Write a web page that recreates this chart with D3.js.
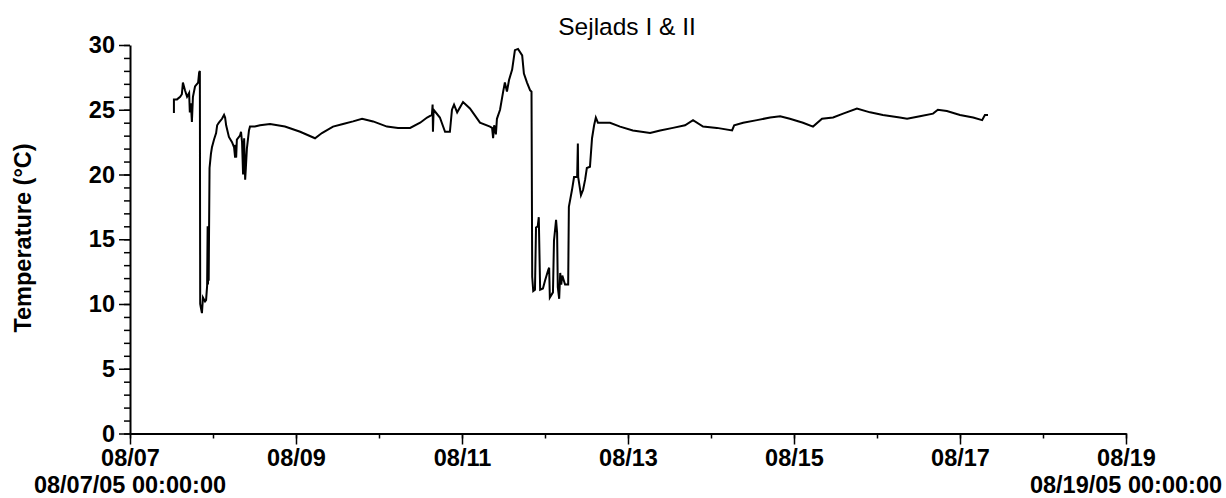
<!DOCTYPE html>
<html>
<head>
<meta charset="utf-8">
<script src="https://d3js.org/d3.v7.min.js"></script>
<style>
  html, body { margin: 0; padding: 0; background: #fff; }
  svg { display: block; }
  text { font-family: "Liberation Sans", Arial, sans-serif; fill: #000; }
</style>
</head>
<body>
<svg id="chart" width="1226" height="498"></svg>
<script>
// ---- data ----
const title = "Sejlads I & II";
const yLabel = "Temperature (°C)";
const startDate = "2005-08-07T00:00:00";
const endDate = "2005-08-19T00:00:00";
// hours since 08/07/05 00:00
const hours = [
  12.7, 12.7, 13.6, 14.5, 15.0, 15.3, 15.9, 16.5, 17.1, 17.3, 17.6, 17.9, 18.2, 18.8, 19.7, 20.0, 20.2,
  20.3, 20.5, 20.8, 21.1, 21.7, 22.0, 22.3, 22.45, 22.55, 22.65, 22.75, 23.0,
  23.4, 23.7, 24.3, 24.9, 25.2, 25.7, 26.6, 27.2, 27.5, 27.8, 28.6, 29.5, 30.1,
  30.4, 30.5, 30.7, 30.9, 31.8, 32.1, 32.4, 32.7, 33.0, 33.3, 33.5, 33.8, 34.4, 34.7,
  36.1, 37.6, 40.5, 44.8, 49.2, 53.5, 55.5, 58.7, 61.6, 64.5, 67.1, 70.3, 74.3, 77.5, 81.0,
  83.9, 85.9, 87.3, 87.5, 87.6, 87.8, 89.6, 91.1, 92.5, 93.1, 93.7, 94.6, 96.3, 98.3,
  101.2, 104.1, 104.7, 105.0, 105.3, 105.8, 106.1, 107.0, 107.9, 108.4, 109.0, 109.6,
  110.5, 111.3, 112.2, 113.4, 113.9, 114.8, 115.7, 116.1,
  116.3, 116.6, 117.1, 117.4, 117.9, 118.2, 118.6, 119.4, 120.0, 120.9, 121.2, 121.4,
  122.3, 122.6, 123.2, 123.5, 123.7, 124.1, 124.4, 124.7, 125.0, 125.8, 126.7, 126.9,
  127.8, 128.4, 129.3, 129.5, 129.6, 130.4, 131.0, 131.6, 132.1, 133.0, 133.6, 134.2,
  134.7, 135.3, 138.8, 141.7, 145.4, 150.4, 153.3, 157.0, 160.5, 162.8, 165.7, 169.7,
  174.1, 174.7, 177.3, 181.3, 185.1, 188.0, 190.8, 194.6, 197.5, 200.1, 203.3, 206.2,
  210.2, 214.0, 217.7, 222.6, 224.7, 228.4, 232.2, 233.6, 236.2, 240.0, 243.8, 246.4,
  247.2, 248.1
];
const temps = [
  24.75, 25.8, 25.8, 26.0, 26.2, 27.1, 26.5, 26.0, 26.3, 24.8, 25.5, 24.05, 26.0, 26.8, 27.1, 27.9, 28.0,
  10.0, 9.7, 9.3, 10.5, 10.2, 10.3, 11.4, 16.0, 11.5, 15.8, 11.8, 20.5,
  21.6, 22.1, 22.7, 23.2, 23.8, 24.0, 24.3, 24.6, 24.4, 23.8, 22.9, 22.5, 22.1,
  21.3, 22.3, 21.3, 22.7, 23.0, 23.3, 22.5, 20.0, 22.8, 19.6, 20.5, 22.0, 23.4, 23.7,
  23.7, 23.8, 23.9, 23.7, 23.3, 22.8, 23.2, 23.7, 23.9, 24.1, 24.3, 24.1, 23.7, 23.6, 23.6,
  24.0, 24.4, 24.6, 25.4, 23.3, 25.0, 24.4, 23.3, 23.3, 25.0, 25.4, 24.8, 25.6, 25.1,
  24.0, 23.7, 23.6, 22.8, 23.8, 23.1, 24.3, 25.0, 26.4, 27.1, 26.4, 27.3,
  28.1, 29.6, 29.7, 29.2, 27.8, 27.1, 26.5, 26.4,
  12.1, 11.0, 11.1, 15.9, 16.0, 16.7, 11.1, 11.2, 11.8, 12.6, 12.8, 10.5,
  10.9, 14.9, 16.5, 15.5, 11.3, 10.4, 12.4, 11.5, 12.2, 11.5, 11.5, 17.5,
  18.8, 19.8, 19.8, 22.4, 19.8, 18.4, 18.8, 19.6, 20.5, 20.6, 22.8, 23.8,
  24.4, 24.0, 24.0, 23.7, 23.4, 23.2, 23.4, 23.6, 23.8, 24.2, 23.7, 23.6,
  23.4, 23.8, 24.0, 24.2, 24.4, 24.5, 24.3, 24.0, 23.7, 24.3, 24.4, 24.7,
  25.1, 24.8, 24.6, 24.4, 24.3, 24.5, 24.7, 25.0, 24.9, 24.6, 24.4, 24.2,
  24.6, 24.6
];
const yMajorTicks = [0, 5, 10, 15, 20, 25, 30];
const yDomain = [0, 30];
const xFirstLabel = "08/07/05 00:00:00";
const xLastLabel = "08/19/05 00:00:00";

// ---- layout ----
const svg = d3.select("#chart");
const plotLeft = 130, plotRight = 1126, plotTop = 45, plotBottom = 433.5;
const fontSize = 23.5;

const t0 = new Date(startDate), t1 = new Date(endDate);
const x = d3.scaleTime().domain([t0, t1]).range([plotLeft, plotRight]);
const y = d3.scaleLinear().domain(yDomain).range([plotBottom, plotTop]);

const data = hours.map((h, i) => ({ t: new Date(t0.getTime() + h * 3600000), v: temps[i] }));

// title
svg.append("text")
  .attr("x", 627).attr("y", 35)
  .attr("text-anchor", "middle")
  .style("font-size", "24.5px")
  .text(title);

// y label
svg.append("text")
  .attr("transform", `translate(31,238) rotate(-90)`)
  .attr("text-anchor", "middle")
  .style("font-size", fontSize + "px")
  .style("font-weight", "bold")
  .text(yLabel);

// y minor ticks
const yMinor = svg.append("g").attr("transform", `translate(${plotLeft},0)`)
  .call(d3.axisLeft(y).tickValues(d3.range(0, 31, 1)).tickSize(6).tickFormat(""));
yMinor.select(".domain").remove();
yMinor.selectAll("line").attr("stroke", "#000").attr("stroke-width", 1.5);

// y major
const yAx = svg.append("g").attr("transform", `translate(${plotLeft},0)`)
  .call(d3.axisLeft(y).tickValues(yMajorTicks).tickSize(11).tickPadding(4).tickSizeOuter(0));
yAx.select(".domain").attr("stroke", "#000").attr("stroke-width", 2);
yAx.selectAll("line").attr("stroke", "#000").attr("stroke-width", 1.5);
yAx.selectAll("text").style("font-size", fontSize + "px").style("font-weight", "bold")
  .attr("font-family", null);

// x minor ticks (daily)
const xMinor = svg.append("g").attr("transform", `translate(0,${plotBottom})`)
  .call(d3.axisBottom(x).ticks(d3.timeDay.every(1)).tickSize(5).tickFormat(""));
xMinor.select(".domain").remove();
xMinor.selectAll("line").attr("stroke", "#000").attr("stroke-width", 1.5);

// x major ticks (every 2 days)
const majorDates = d3.timeDay.range(t0, new Date(t1.getTime() + 1), 2);
const xAx = svg.append("g").attr("transform", `translate(0,${plotBottom})`)
  .call(d3.axisBottom(x).tickValues(majorDates).tickSize(11).tickPadding(5)
    .tickFormat(d3.timeFormat("%m/%d")).tickSizeOuter(0));
xAx.select(".domain").attr("stroke", "#000").attr("stroke-width", 2);
xAx.selectAll("line").attr("stroke", "#000").attr("stroke-width", 1.5);
xAx.selectAll("text").style("font-size", fontSize + "px").style("font-weight", "bold")
  .attr("font-family", null);

// second-line labels
[[t0, xFirstLabel], [t1, xLastLabel]].forEach(([d, s]) => {
  svg.append("text")
    .attr("x", x(d)).attr("y", 493)
    .attr("text-anchor", "middle")
    .style("font-size", fontSize + "px")
    .style("font-weight", "bold")
    .text(s);
});

// data line
const line = d3.line().x(d => x(d.t)).y(d => y(d.v));
svg.append("path")
  .datum(data)
  .attr("d", line)
  .attr("fill", "none")
  .attr("stroke", "#000")
  .attr("stroke-width", 2)
  .attr("stroke-linejoin", "miter");
</script>
</body>
</html>
